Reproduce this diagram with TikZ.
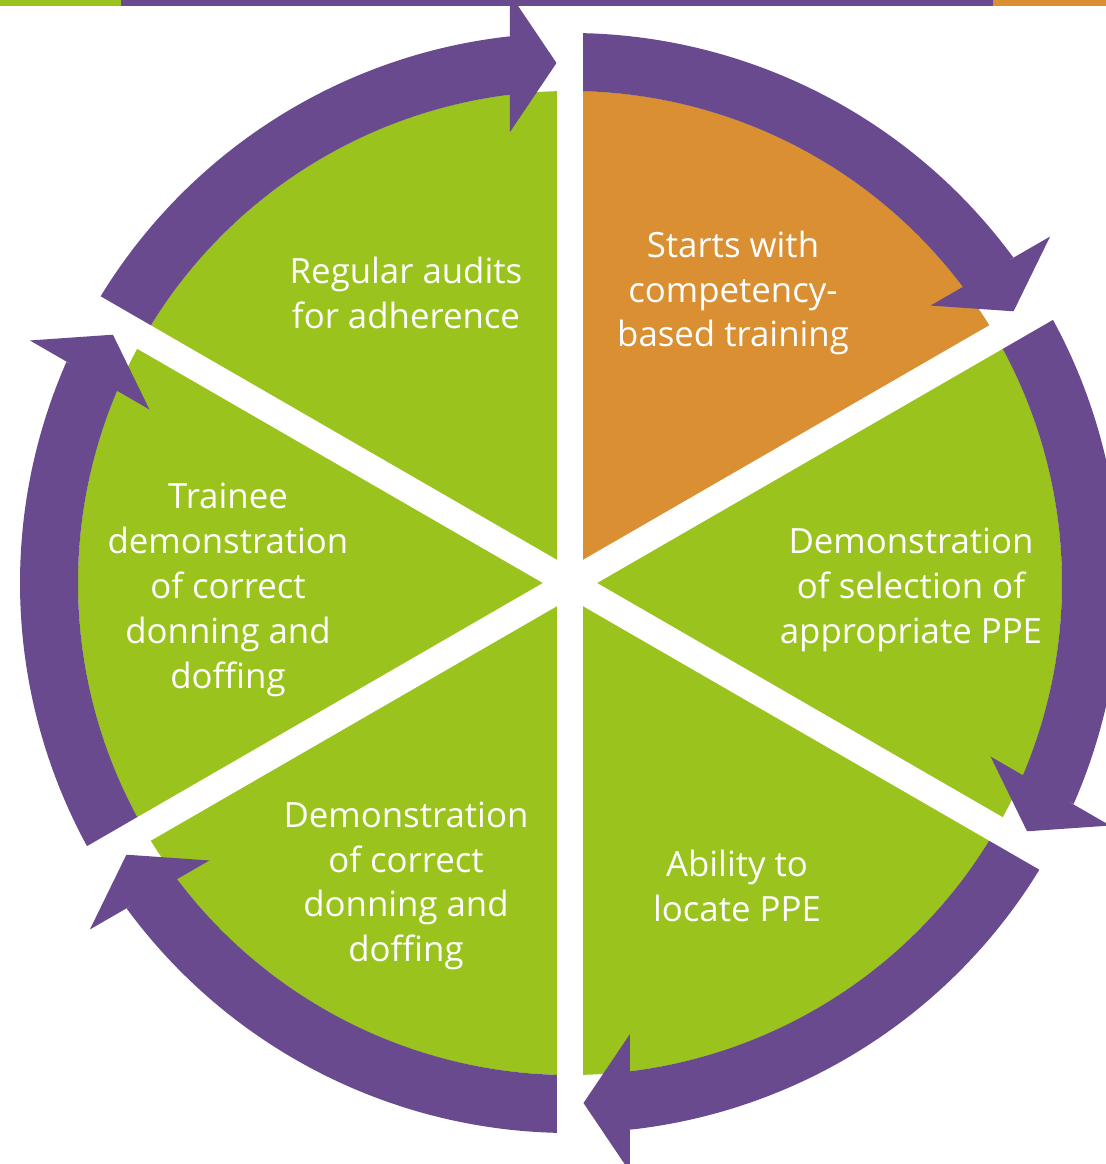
\documentclass[tikz,border=0pt]{standalone}
\usepackage{fontspec}
\usepackage{tikz}
\newfontfamily\stepfont{Open Sans}
\definecolor{leafgreen}{RGB}{155,195,30}
\definecolor{ringpurple}{RGB}{105,74,142}
\definecolor{startorange}{RGB}{218,143,50}
\tikzset{
	steptext/.style={text=white, align=center, font=\stepfont\fontsize{19.8}{25.5}\selectfont},
	gapbar/.style={draw=white, line width=0.54cm},
}
% one purple ring piece, ending with its head at the gap #1
\def\ringarrow(#1){\begin{scope}[rotate=#1-90]
		\fill[ringpurple] (150:492) arc (150:96.3:492) -- (96.3:550) arc (96.3:150:550) -- cycle;
		\fill[ringpurple] (-60, 451) -- (-60, 589) -- (-13.5, 520) -- cycle;
	\end{scope}}

\begin{document}
\begin{tikzpicture}[x=0.02cm, y=0.02cm]
			%%%%% START %%%%%
			
			\useasboundingbox (-570, -581) rectangle (536, 583);
			\clip (-570, -581) rectangle (536, 583);
			
			\fill[leafgreen] (0, 0) circle (492);
			\fill[startorange] (0, 0) -- (30:492) arc (30:90:492) -- cycle;
			
			\ringarrow(90)
			\ringarrow(30)
			\ringarrow(-30)
			\ringarrow(-90)
			\ringarrow(-150)
			\ringarrow(150)
			
			\draw[gapbar] (0, 0) -- (90:560);
			\draw[gapbar] (0, 0) -- (30:560);
			\draw[gapbar] (0, 0) -- (-30:560);
			\draw[gapbar] (0, 0) -- (-90:560);
			\draw[gapbar] (0, 0) -- (-150:560);
			\draw[gapbar] (0, 0) -- (150:560);
			
			\fill[leafgreen] (-570, 577) rectangle (-449, 583);
			\fill[ringpurple] (-449, 577) rectangle (423, 583);
			\fill[startorange] (423, 577) rectangle (536, 583);
			
			\node[steptext] (training) at (163, 290) {Starts with\\competency-\\based training};
			\node[steptext] (selection) at (341, -7) {Demonstration\\of selection of\\appropriate PPE};
			\node[steptext] (locate) at (167, -303) {Ability to\\locate PPE};
			\node[steptext] (donning) at (-164, -303) {Demonstration\\of correct\\donning and\\doffing};
			\node[steptext] (trainee) at (-342, -7) {Trainee\\demonstration\\of correct\\donning and\\doffing};
			\node[steptext] (audits) at (-164, 290) {Regular audits\\for adherence};
			
			%%%%% END %%%%%
\end{tikzpicture}
\end{document}
